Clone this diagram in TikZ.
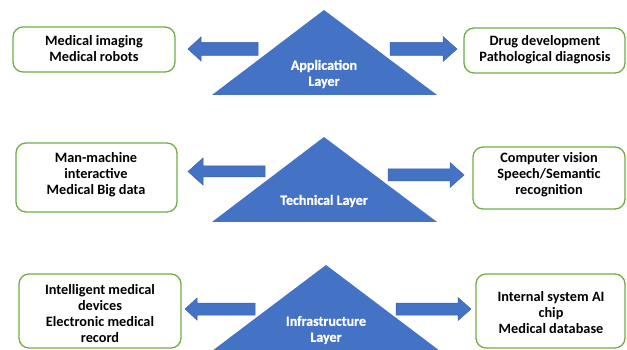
\documentclass[tikz,border=0pt]{standalone}
\usepackage{fontspec}
\setmainfont{Carlito}
\begin{document}
\begin{tikzpicture}[x=1pt,y=-1pt,
  infobox/.style={draw=boxgreen, line width=1.3pt, rounded corners=10pt, fill=white},
  boxtext/.style={font=\fontsize{14.3}{16}\selectfont\bfseries, align=center, text=black},
  layertext/.style={font=\fontsize{14}{16}\selectfont\bfseries\addfontfeature{FakeBold=0.8}, align=center, text=white},
  layer/.style={fill=layerblue},
  blockarrow/.style={fill=layerblue, draw=arrowedge, line width=0.5pt}]
\definecolor{layerblue}{HTML}{4472C4}
\definecolor{arrowedge}{HTML}{3A62AE}
\definecolor{boxgreen}{HTML}{70AD47}
\useasboundingbox (0,0) rectangle (627,350);

% left-pointing block arrow: tip x, head base x, tail x, centre y, shaft half height, head half height
\newcommand{\leftblock}[6]{%
  \draw[blockarrow] (#1,#4) -- (#2,#4-#6) -- (#2,#4-#5) -- (#3,#4-#5)
    -- (#3,#4+#5) -- (#2,#4+#5) -- (#2,#4+#6) -- cycle;}
% right-pointing block arrow: tail x, head base x, tip x, centre y, shaft half height, head half height
\newcommand{\rightblock}[6]{%
  \draw[blockarrow] (#3,#4) -- (#2,#4-#6) -- (#2,#4-#5) -- (#1,#4-#5)
    -- (#1,#4+#5) -- (#2,#4+#5) -- (#2,#4+#6) -- cycle;}

% ---- application layer ----
\fill[layer] (324,10) -- (437,95) -- (212,95) -- cycle;
\node[layertext] (app) at (324,74) {Application\\Layer};
\draw[infobox] (13,27) rectangle (175,72);
\node[boxtext] (appL) at (94,49) {Medical imaging\\Medical robots};
\draw[infobox] (464,28) rectangle (625,73);
\node[boxtext] (appR) at (545,50) {Drug development\\Pathological diagnosis};
\leftblock{188}{201}{258}{49}{6.5}{12}
\rightblock{390}{443}{457}{49}{6.5}{12.5}

% ---- technical layer ----
\fill[layer] (324,137) -- (437,222) -- (212,222) -- cycle;
\node[layertext] (tech) at (324,201) {Technical Layer};
\draw[infobox] (16,143) rectangle (177,212);
\node[boxtext] (techL) at (96,175) {Man-machine\\interactive\\Medical Big data};
\draw[infobox] (473,147) rectangle (625,209);
\node[boxtext] (techR) at (549,175) {Computer vision\\Speech/Semantic\\recognition};
\leftblock{188}{203}{265}{171.5}{5.5}{13.5}
\rightblock{388}{450}{464}{175}{6}{12.5}

% ---- infrastructure layer ----
\fill[layer] (326,265) -- (440,351) -- (212,351) -- cycle;
\node[layertext] (infra) at (326,330) {Infrastructure\\Layer};
\draw[infobox] (19,274) rectangle (181,348);
\node[boxtext] (infraL) at (100,314) {Intelligent medical\\devices\\Electronic medical\\record};
\draw[infobox] (476,274) rectangle (625,348);
\node[boxtext] (infraR) at (551,313) {Internal system AI\\chip\\Medical database};
\leftblock{185}{197}{255}{309}{6}{11}
\rightblock{396}{458}{471}{309}{6}{11.5}
\end{tikzpicture}
\end{document}
